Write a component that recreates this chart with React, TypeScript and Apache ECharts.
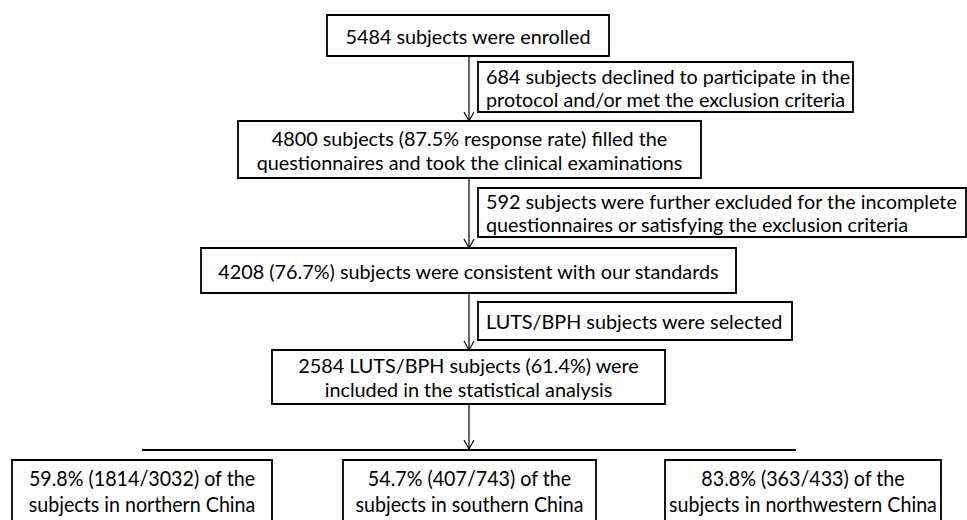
import React, { useEffect, useRef } from "react";
import * as echarts from "echarts";

// ---- content (text of the flow chart) ----
const mainSteps: string[][] = [
  ["5484 subjects were enrolled"],
  ["4800 subjects (87.5% response rate) filled the", "questionnaires and took the clinical examinations"],
  ["4208 (76.7%) subjects were consistent with our standards"],
  ["2584 LUTS/BPH subjects (61.4%) were", "included in the statistical analysis"],
];
const exclusionSteps: string[][] = [
  ["684 subjects declined to participate in the", "protocol and/or met the exclusion criteria"],
  ["592 subjects were further excluded for the incomplete", "questionnaires or satisfying the exclusion criteria"],
  ["LUTS/BPH subjects were selected"],
];
const regionGroups: string[][] = [
  ["59.8% (1814/3032) of the", "subjects in northern China"],
  ["54.7% (407/743) of the", "subjects in southern China"],
  ["83.8% (363/433) of the", "subjects in northwestern China"],
];

// ---- layout ----
type Box = { x: number; y: number; w: number; h: number };
const mainBoxes: Box[] = [
  { x: 327, y: 15, w: 282, h: 41 },
  { x: 238, y: 121, w: 463, h: 57 },
  { x: 201, y: 248, w: 535, h: 45 },
  { x: 272, y: 350, w: 393, h: 54 },
];
const sideBoxes: Box[] = [
  { x: 478, y: 62, w: 375, h: 50 },
  { x: 478, y: 188, w: 488, h: 49 },
  { x: 478, y: 302, w: 314, h: 38 },
];
const regionBoxes: Box[] = [
  { x: 12, y: 460, w: 260, h: 62 },
  { x: 343, y: 460, w: 253, h: 62 },
  { x: 665, y: 460, w: 276, h: 62 },
];
const ARROW_X = 469;
const SPLIT_Y = 450;
const SPLIT_X0 = 142;
const SPLIT_X1 = 796;

const FONT = "Lato";
const TOP_SIZE = 19.8;
const TOP_SCALE = 1.0;
const BOTTOM_SIZE = 20.6;
const BOTTOM_SCALE = 0.955;

function boxRect(b: Box, lw: number) {
  return {
    type: "rect",
    shape: { x: b.x, y: b.y, width: b.w, height: b.h },
    style: { fill: "#fff", stroke: "#000", lineWidth: lw },
    silent: true,
  };
}

function boxText(b: Box, lines: string[], size: number, lh: number, sx: number, left: boolean) {
  return {
    type: "text",
    x: left ? b.x + 8 : b.x + b.w / 2,
    y: b.y + b.h / 2,
    scaleX: sx,
    style: {
      text: lines.join("\n"),
      fontFamily: FONT,
      fontSize: size,
      lineHeight: lh,
      fill: "#000",
      align: left ? "left" : "center",
      verticalAlign: "middle",
    },
    silent: true,
  };
}

function arrow(x: number, y0: number, y1: number) {
  return [
    {
      type: "line",
      shape: { x1: x, y1: y0, x2: x, y2: y1 },
      style: { stroke: "#000", lineWidth: 1.2 },
      silent: true,
    },
    {
      type: "polyline",
      shape: { points: [[x - 5, y1 - 9], [x, y1], [x + 5, y1 - 9]] },
      style: { stroke: "#000", lineWidth: 1.2, fill: null },
      silent: true,
    },
  ];
}

export default function App() {
  const ref = useRef<HTMLDivElement>(null);
  useEffect(() => {
    document.body.style.margin = "0";
    if (!ref.current) return;
    const chart = echarts.init(ref.current, null, { renderer: "svg" });
    const elements: any[] = [];

    for (let i = 0; i < mainBoxes.length - 1; i++) {
      const a = mainBoxes[i];
      const b = mainBoxes[i + 1];
      elements.push(...arrow(ARROW_X, a.y + a.h, b.y));
    }
    const last = mainBoxes[mainBoxes.length - 1];
    elements.push(...arrow(ARROW_X, last.y + last.h, SPLIT_Y - 1));
    elements.push({
      type: "line",
      shape: { x1: SPLIT_X0, y1: SPLIT_Y, x2: SPLIT_X1, y2: SPLIT_Y },
      style: { stroke: "#000", lineWidth: 1.8 },
      silent: true,
    });

    mainSteps.forEach((lines, i) => {
      const b = mainBoxes[i];
      elements.push(boxRect(b, 1.8));
      elements.push(boxText(b, lines, TOP_SIZE, 24, TOP_SCALE, false));
    });
    exclusionSteps.forEach((lines, i) => {
      const b = sideBoxes[i];
      elements.push(boxRect(b, 1.8));
      elements.push(boxText(b, lines, TOP_SIZE, 23, TOP_SCALE, true));
    });
    regionGroups.forEach((lines, i) => {
      const b = regionBoxes[i];
      elements.push(boxRect(b, 1.8));
      elements.push(boxText(b, lines, BOTTOM_SIZE, 26, BOTTOM_SCALE, false));
    });

    chart.setOption({
      animation: false,
      backgroundColor: "#fff",
      graphic: { elements },
    });
    return () => chart.dispose();
  }, []);
  return <div ref={ref} style={{ width: 967, height: 520 }} />;
}
